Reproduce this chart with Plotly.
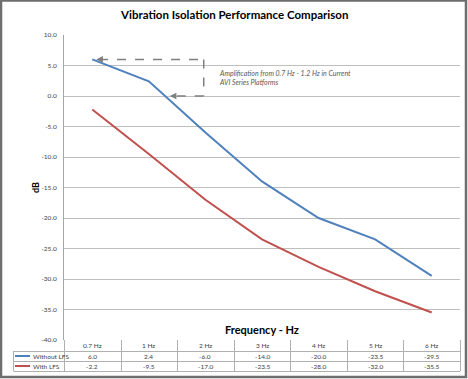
import plotly.graph_objects as go

categories = ["0.7 Hz", "1 Hz", "2 Hz", "3 Hz", "4 Hz", "5 Hz", "6 Hz"]
without_lfs = [6.0, 2.4, -6.0, -14.0, -20.0, -23.5, -29.5]
with_lfs = [-2.2, -9.5, -17.0, -23.5, -28.0, -32.0, -35.5]
series_names = ["Without LFS", "With LFS"]
colors = ["#4F81BD", "#C0504D"]
y_ticks = [10, 5, 0, -5, -10, -15, -20, -25, -30, -35, -40]

W, H = 468, 379
ML, MR, MT, MB = 64, 8, 35, 39
PW, PH = W - ML - MR, H - MT - MB
FONT = "Lato, Open Sans, sans-serif"

n = len(categories)
xs = list(range(n))

fig = go.Figure()
for vals, name, col in zip([without_lfs, with_lfs], series_names, colors):
    fig.add_trace(go.Scatter(x=xs, y=vals, mode="lines", name=name,
                             line=dict(color=col, width=2), showlegend=False,
                             hoverinfo="skip"))

shapes = []
annotations = []

def py2paper(py):
    return (MT + PH - py) / PH

def px2paper(px):
    return (px - ML) / PW

# data table below plot
row_y = [340, 351, 361, 371]
yp = [py2paper(v) for v in row_y]
grid_col = "#B0B0B0"
for k in range(n + 1):
    xk = px2paper(round(ML + k * PW / n) + 0.5)
    shapes.append(dict(type="line", xref="paper", yref="paper", x0=xk, x1=xk,
                       y0=yp[0], y1=yp[3], line=dict(color=grid_col, width=1)))
leg_x0 = px2paper(13.5)
for j in (1, 2, 3):
    shapes.append(dict(type="line", xref="paper", yref="paper", x0=leg_x0, x1=1,
                       y0=py2paper(row_y[j] + 0.5), y1=py2paper(row_y[j] + 0.5),
                       line=dict(color=grid_col, width=1)))
shapes.append(dict(type="line", xref="paper", yref="paper", x0=leg_x0, x1=leg_x0,
                   y0=yp[1], y1=yp[3], line=dict(color=grid_col, width=1)))

cell_font = dict(family=FONT, size=6.5, color="#404040")
for i, c in enumerate(categories):
    xc = (i + 0.5) / n
    annotations.append(dict(xref="paper", yref="paper", x=xc, y=(yp[0] + yp[1]) / 2,
                            xanchor="center", yanchor="middle",
                            text=c, showarrow=False, font=cell_font))
    annotations.append(dict(xref="paper", yref="paper", x=xc, y=(yp[1] + yp[2]) / 2,
                            xanchor="center", yanchor="middle",
                            text=f"{without_lfs[i]:.1f}", showarrow=False, font=cell_font))
    annotations.append(dict(xref="paper", yref="paper", x=xc, y=(yp[2] + yp[3]) / 2,
                            xanchor="center", yanchor="middle",
                            text=f"{with_lfs[i]:.1f}", showarrow=False, font=cell_font))
for j, (name, col) in enumerate(zip(series_names, colors)):
    ym = (yp[j + 1] + yp[j + 2]) / 2
    shapes.append(dict(type="line", xref="paper", yref="paper", x0=px2paper(15), x1=px2paper(30),
                       y0=ym, y1=ym, line=dict(color=col, width=2)))
    annotations.append(dict(xref="paper", yref="paper", x=px2paper(31), y=ym,
                            xanchor="left", yanchor="middle",
                            text=name, showarrow=False, font=cell_font))

# callout: dashed path with arrows
dash_col = "#7F7F7F"
path_pts = [(0.12, 6.0), (1.97, 6.0), (1.97, 0.0), (1.44, 0.0)]
for (x0, y0), (x1, y1) in zip(path_pts[:-1], path_pts[1:]):
    shapes.append(dict(type="line", xref="x", yref="y", x0=x0, y0=y0, x1=x1, y1=y1,
                       line=dict(color=dash_col, width=1.5, dash="dash")))
for tipx, tipy in [(0.07, 6.0), (1.37, 0.0)]:
    annotations.append(dict(xref="x", yref="y", x=tipx, y=tipy, ax=6, ay=0, text="",
                            showarrow=True, arrowhead=2, arrowsize=1.1, arrowwidth=1.2,
                            arrowcolor=dash_col))
annotations.append(dict(xref="x", yref="y", x=2.2, y=3.0, xanchor="left", yanchor="middle",
                        align="left", showarrow=False,
                        text="<i>Amplification from 0.7 Hz - 1.2 Hz in Current<br>AVI Series Platforms</i>",
                        font=dict(family=FONT, size=7, color="#595959")))

# titles
annotations.append(dict(xref="paper", yref="paper", x=px2paper(234), y=py2paper(15),
                        xanchor="center", yanchor="middle",
                        text="<b>Vibration Isolation Performance Comparison</b>", showarrow=False,
                        font=dict(family=FONT, size=11.5, color="#000000")))
annotations.append(dict(xref="paper", yref="paper", x=px2paper(262), y=py2paper(329),
                        xanchor="center", yanchor="middle",
                        text="<b>Frequency - Hz</b>", showarrow=False,
                        font=dict(family=FONT, size=11, color="#000000")))
annotations.append(dict(xref="paper", yref="paper", x=px2paper(35), y=py2paper(188),
                        xanchor="center", yanchor="middle",
                        text="<b>dB</b>", showarrow=False, textangle=-90,
                        font=dict(family=FONT, size=9, color="#000000")))

# outer frame
shapes.append(dict(type="rect", xref="paper", yref="paper", x0=px2paper(1), x1=px2paper(466),
                   y0=py2paper(377), y1=py2paper(0.5), line=dict(color="#6E6E6E", width=2.5)))

fig.update_layout(
    width=W, height=H,
    margin=dict(l=ML, r=MR, t=MT, b=MB),
    paper_bgcolor="white", plot_bgcolor="white",
    shapes=shapes, annotations=annotations,
    xaxis=dict(range=[-0.5, n - 0.5], showticklabels=False, showgrid=False,
               zeroline=False, showline=False, fixedrange=True),
    yaxis=dict(range=[-40, 10], tickvals=y_ticks, ticktext=[f"{v:.1f}" for v in y_ticks],
               showgrid=True, gridcolor="#BFBFBF", gridwidth=1, zeroline=False,
               showline=True, linecolor="#A6A6A6", linewidth=1, ticks="",
               tickfont=dict(family=FONT, size=6.5, color="#404040"), ticklabelstandoff=5,
               fixedrange=True),
    showlegend=False,
    hovermode=False,
)

fig.write_html("out.html", config={"displayModeBar": False},
               post_script="document.body.style.margin='0';document.body.style.overflow='hidden';")
